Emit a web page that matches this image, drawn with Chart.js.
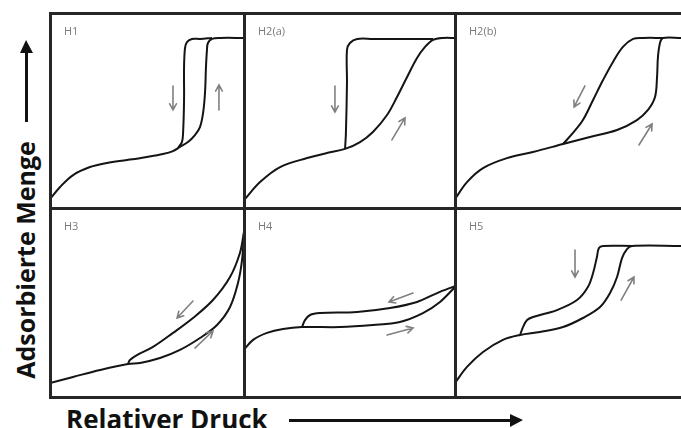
<!DOCTYPE html>
<html>
<head>
<meta charset="utf-8">
<script src="https://cdn.jsdelivr.net/npm/chart.js@4.4.0/dist/chart.umd.min.js"></script>
<style>
body{margin:0;width:681px;height:428px;overflow:hidden;background:#fff;position:relative;font-family:'Open Sans',sans-serif}
canvas.panel{position:absolute}
.ln{position:absolute;background:#262626;z-index:5}
#ytitle{position:absolute;left:-115px;top:245px;width:280px;height:30px;line-height:30px;text-align:center;font-size:25px;font-weight:700;color:#111;transform:rotate(-90deg);white-space:nowrap}
#xtitle{position:absolute;left:66px;top:404px;line-height:30px;font-size:26px;font-weight:700;color:#111;white-space:nowrap}
.shaft{position:absolute;background:#111}
.head{position:absolute;width:0;height:0}
</style>
</head>
<body>
<div id="ytitle">Adsorbierte Menge</div>
<div class="shaft" style="left:25px;top:52px;width:3px;height:70px"></div>
<div class="head" style="left:20px;top:40px;border-left:6px solid transparent;border-right:7px solid transparent;border-bottom:13px solid #111"></div>
<div id="xtitle">Relativer Druck</div>
<div class="shaft" style="left:289px;top:419px;width:222px;height:3px"></div>
<div class="head" style="left:510px;top:414px;border-top:6px solid transparent;border-bottom:7px solid transparent;border-left:13px solid #111"></div>

<script>
// noms des panneaux
var labels = ['H1', 'H2(a)', 'H2(b)', 'H3', 'H4', 'H5'];

// branches adsorption / desorption (x = p/p0 relatif, y = quantité relative)
var h1Ads = [[0,0.046],[0.052,0.108],[0.119,0.169],[0.206,0.21],[0.294,0.231],[0.397,0.246],[0.5,0.262],[0.582,0.277],[0.634,0.292],[0.67,0.313],[0.711,0.338],[0.747,0.374],[0.773,0.415],[0.789,0.487],[0.799,0.59],[0.804,0.723],[0.809,0.81],[0.814,0.846],[0.835,0.867],[0.876,0.872],[1,0.872]];
var h1Des = [[0.66,0.308],[0.68,0.338],[0.686,0.385],[0.691,0.554],[0.691,0.723],[0.696,0.821],[0.706,0.851],[0.732,0.867],[0.773,0.867],[0.835,0.872]];

var h2aAds = [[0,0.04],[0.076,0.133],[0.171,0.21],[0.299,0.256],[0.393,0.282],[0.479,0.303],[0.55,0.338],[0.611,0.39],[0.678,0.477],[0.725,0.569],[0.773,0.672],[0.82,0.769],[0.858,0.826],[0.896,0.862],[0.943,0.872],[1,0.872]];
var h2aDes = [[0.479,0.303],[0.483,0.385],[0.488,0.641],[0.488,0.81],[0.502,0.846],[0.536,0.867],[0.611,0.867],[0.896,0.867]];

var h2bAds = [[0,0.046],[0.053,0.133],[0.124,0.205],[0.23,0.256],[0.345,0.287],[0.478,0.328],[0.597,0.364],[0.717,0.4],[0.805,0.451],[0.854,0.503],[0.885,0.569],[0.894,0.672],[0.898,0.774],[0.907,0.846],[0.92,0.872],[1,0.872]];
var h2bDes = [[0.478,0.328],[0.522,0.385],[0.566,0.451],[0.611,0.554],[0.655,0.656],[0.699,0.749],[0.743,0.826],[0.788,0.867],[0.832,0.872],[0.92,0.872]];

var h3Ads = [[0,0.074],[0.119,0.106],[0.258,0.143],[0.402,0.175],[0.464,0.18],[0.567,0.206],[0.67,0.249],[0.773,0.312],[0.861,0.381],[0.928,0.476],[0.969,0.603],[0.99,0.725],[1,0.868]];
var h3Des = [[0.402,0.175],[0.412,0.196],[0.448,0.222],[0.531,0.265],[0.634,0.339],[0.737,0.418],[0.84,0.513],[0.928,0.635],[0.979,0.762],[1,0.873]];

var h4Ads = [[0,0.25],[0.043,0.302],[0.109,0.339],[0.185,0.36],[0.275,0.37],[0.455,0.37],[0.611,0.381],[0.739,0.397],[0.848,0.444],[0.929,0.503],[1,0.582]];
var h4Des = [[0.275,0.37],[0.289,0.407],[0.313,0.434],[0.36,0.444],[0.536,0.45],[0.692,0.471],[0.82,0.503],[0.915,0.55],[1,0.587]];

var h5Ads = [[0,0.074],[0.053,0.159],[0.124,0.238],[0.212,0.302],[0.288,0.328],[0.376,0.344],[0.478,0.37],[0.566,0.418],[0.642,0.476],[0.686,0.55],[0.717,0.635],[0.739,0.735],[0.761,0.783],[0.783,0.799],[1,0.799]];
var h5Des = [[0.288,0.328],[0.301,0.37],[0.319,0.407],[0.345,0.423],[0.451,0.46],[0.54,0.513],[0.588,0.582],[0.611,0.656],[0.628,0.741],[0.637,0.788],[0.655,0.799],[0.783,0.799]];

// petites flèches : [x départ, y départ, x pointe, y pointe]
var h1Arrows = [[0.634,0.626,0.634,0.503],[0.871,0.503,0.871,0.631]];
var h2aArrows = [[0.431,0.626,0.431,0.492],[0.701,0.349,0.763,0.462]];
var h2bArrows = [[0.575,0.626,0.527,0.518],[0.814,0.323,0.872,0.431]];
var h3Arrows = [[0.737,0.508,0.655,0.418],[0.747,0.259,0.84,0.349]];
var h4Arrows = [[0.801,0.55,0.687,0.503],[0.678,0.328,0.801,0.365]];
var h5Arrows = [[0.531,0.778,0.531,0.635],[0.735,0.513,0.792,0.635]];

var curves = [[h1Ads,h1Des],[h2aAds,h2aDes],[h2bAds,h2bDes],[h3Ads,h3Des],[h4Ads,h4Des],[h5Ads,h5Des]];
var arrows = [h1Arrows,h2aArrows,h2bArrows,h3Arrows,h4Arrows,h5Arrows];

// position des cases
var cols = [[50,244],[244,455],[455,681]];
var rows = [[13,208],[208,397]];

//plugin pour le nom du panneau et les fleches grises
var decoPlugin = {
  id: 'deco',
  afterDatasetsDraw: function(chart, args, opts){
    var ctx = chart.ctx, sx = chart.scales.x, sy = chart.scales.y;
    ctx.save();
    ctx.fillStyle = '#7a7a7a';
    ctx.font = '11px "Open Sans", sans-serif';
    ctx.textBaseline = 'top';
    ctx.fillText(opts.label, 14, opts.labelTop);
    ctx.strokeStyle = '#808080';
    ctx.lineWidth = 1.6;
    ctx.lineCap = 'round';
    opts.arrows.forEach(function(a){
      var x1 = sx.getPixelForValue(a[0]), y1 = sy.getPixelForValue(a[1]);
      var x2 = sx.getPixelForValue(a[2]), y2 = sy.getPixelForValue(a[3]);
      var ang = Math.atan2(y2 - y1, x2 - x1);
      ctx.beginPath();
      ctx.moveTo(x1, y1);
      ctx.lineTo(x2, y2);
      ctx.moveTo(x2 - 7*Math.cos(ang - 0.5), y2 - 7*Math.sin(ang - 0.5));
      ctx.lineTo(x2, y2);
      ctx.lineTo(x2 - 7*Math.cos(ang + 0.5), y2 - 7*Math.sin(ang + 0.5));
      ctx.stroke();
    });
    ctx.restore();
  }
};

for (var i = 0; i < 6; i++) {
  var c = cols[i % 3], r = rows[Math.floor(i / 3)];
  var cv = document.createElement('canvas');
  cv.className = 'panel';
  cv.width = c[1] - c[0];
  cv.height = r[1] - r[0];
  cv.style.left = c[0] + 'px';
  cv.style.top = r[0] + 'px';
  document.body.appendChild(cv);

  var ds = curves[i].map(function(pts){
    return {
      data: pts.map(function(p){ return {x: p[0], y: p[1]}; }),
      borderColor: '#141414',
      borderWidth: 2,
      pointRadius: 0,
      tension: 0.35,
      fill: false,
      clip: false
    };
  });

  new Chart(cv.getContext('2d'), {
    type: 'line',
    data: {datasets: ds},
    options: {
      responsive: false,
      animation: false,
      layout: {padding: 0},
      scales: {
        x: {type: 'linear', min: 0, max: 1, display: false},
        y: {type: 'linear', min: 0, max: 1, display: false}
      },
      plugins: {
        legend: {display: false},
        tooltip: {enabled: false},
        deco: {label: labels[i], arrows: arrows[i], labelTop: 13}
      }
    },
    plugins: [decoPlugin]
  });
}

// cadre noir
function ligne(x, y, w, h){
  var d = document.createElement('div');
  d.className = 'ln';
  d.style.left = x + 'px'; d.style.top = y + 'px';
  d.style.width = w + 'px'; d.style.height = h + 'px';
  document.body.appendChild(d);
}
rows.forEach(function(r){ ligne(49, r[0] - 1, 640, 3); });
ligne(49, 396, 640, 3);
cols.forEach(function(c){ ligne(c[0] - 1, 12, 3, 387); });
</script>
</body>
</html>
